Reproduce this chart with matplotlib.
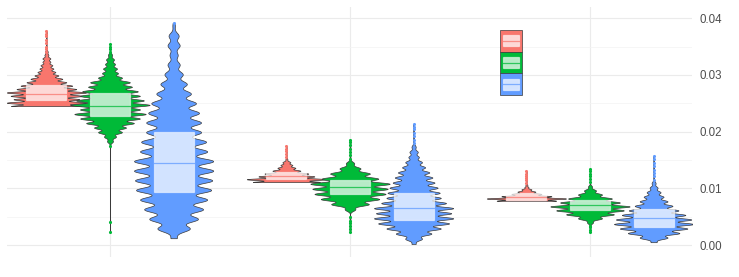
import numpy as np
import matplotlib
matplotlib.use("Agg")
import matplotlib.pyplot as plt
from matplotlib.patches import Rectangle
from matplotlib.lines import Line2D

# ---------------- data ----------------
categories = ["1", "2", "3"]                 # x groups (no labels shown)
series_colors = ["#F8766D", "#00BA38", "#619CFF"]

# value-level histograms per violin: start value, level spacing, counts (low -> high)
s1_lo = [0.0245, 0.0111, 0.0078]
s1_step = [0.0006, 0.0005, 0.0004]
s1_counts = [
    [36, 40, 33, 36, 40, 30, 26, 20, 16, 12, 9, 7, 6, 4, 4, 2, 1],
    [34, 40, 28, 22, 14, 9, 6, 4, 1],
    [30, 40, 25, 15, 9, 5, 2, 1],
]
s1_box = [[0.0256, 0.0267, 0.0283], [0.0116, 0.0121, 0.0128], [0.0079, 0.0085, 0.0092]]
s1_out = [
    [0.0340, 0.0345, 0.0350, 0.0356, 0.0362, 0.0368, 0.0373, 0.0378],
    [0.0155, 0.0160, 0.0165, 0.0170, 0.0175],
    [0.0110, 0.0114, 0.0118, 0.0122, 0.0126, 0.0130],
]

s2_lo = [0.0183, 0.0063, 0.0040]
s2_step = [0.0008, 0.0009, 0.0007]
s2_counts = [
    [3, 6, 12, 16, 24, 30, 36, 30, 40, 34, 30, 28, 22, 20, 12, 8, 7, 5, 4, 2],
    [5, 18, 28, 34, 36, 38, 27, 19, 10, 4],
    [3, 12, 24, 34, 40, 30, 22, 12, 6, 2],
]
s2_box = [[0.0227, 0.0245, 0.0268], [0.0090, 0.0102, 0.0115], [0.0062, 0.0071, 0.0079]]
s2_out = [
    [0.0023, 0.0041, 0.0174, 0.0340, 0.0345, 0.0350, 0.0355],
    [0.0023, 0.0028, 0.0033, 0.0038, 0.0043, 0.0049,
     0.0152, 0.0158, 0.0164, 0.0170, 0.0176, 0.0181, 0.0186],
    [0.0023, 0.0027, 0.0031, 0.0034, 0.0111, 0.0116, 0.0121, 0.0125, 0.0130, 0.0134],
]

s3_lo = [0.0012, 0.0002, 0.0005]
s3_step = [0.0017, 0.0009, 0.0008]
s3_counts = [
    [3, 16, 24, 29, 33, 37, 38, 39, 39, 33, 32, 27, 27, 25, 22, 17, 13, 9, 6, 4, 6, 5, 1],
    [2, 8, 17, 26, 34, 38, 36, 38, 31, 26, 25, 23, 20, 18, 15, 11, 8, 5, 4, 2],
    [3, 14, 26, 34, 40, 38, 32, 25, 19, 14, 10, 7, 4, 2],
]
s3_box = [[0.0093, 0.0144, 0.0200], [0.0044, 0.0065, 0.0092], [0.0031, 0.0047, 0.0063]]
s3_out = [
    [0.0392],
    [0.0180, 0.0186, 0.0192, 0.0198, 0.0204, 0.0209, 0.0213],
    [0.0115, 0.0121, 0.0127, 0.0133, 0.0139, 0.0145, 0.0151, 0.0157],
]

y_ticks = [0.00, 0.01, 0.02, 0.03, 0.04]
y_tick_labels = ["0.00", "0.01", "0.02", "0.03", "0.04"]

# ---------------- figure ----------------
W, H = 739, 277
fig = plt.figure(figsize=(W / 100, H / 100), dpi=100)
px_l, px_r, px_t, px_b = 7, 692, 6.7, 256.7
ax = fig.add_axes([px_l / W, 1 - px_b / H, (px_r - px_l) / W, (px_b - px_t) / H])

dodge = [-0.265, 0.0, 0.265]
half_w = 0.165
box_w = 0.167
edge = "#3a3a3a"

LO = [s1_lo, s2_lo, s3_lo]
STEP = [s1_step, s2_step, s3_step]
COUNTS = [s1_counts, s2_counts, s3_counts]
BOX = [s1_box, s2_box, s3_box]
OUT = [s1_out, s2_out, s3_out]

for g in range(len(categories)):
    for s in range(3):
        lo, step = LO[s][g], STEP[s][g]
        c = np.array(COUNTS[s][g], dtype=float)
        lv = lo + step * np.arange(len(c))
        out = np.array(OUT[s][g])
        vals = np.concatenate([lv, out])
        wts = np.concatenate([c, np.full(len(out), 0.35)])
        bw = 0.33 * step
        yy = np.linspace(vals.min(), vals.max(), 2500)
        d = (wts[None, :] * np.exp(-0.5 * ((yy[:, None] - vals[None, :]) / bw) ** 2)).sum(1)
        d = d / d.max() * half_w
        xc = g + 1 + dodge[s]
        ax.fill_betweenx(yy, xc - d, xc + d, facecolor=series_colors[s],
                         edgecolor=edge, linewidth=0.5, zorder=2)

for g in range(len(categories)):
    for s in range(3):
        q1, med, q3 = BOX[s][g]
        xc = g + 1 + dodge[s]
        ax.add_patch(Rectangle((xc - box_w / 2, q1), box_w, q3 - q1,
                               facecolor=(1, 1, 1, 0.72), edgecolor=(1, 1, 1, 0.55),
                               linewidth=0.9, zorder=3))
        ax.plot([xc - box_w / 2, xc + box_w / 2], [med, med], color=series_colors[s],
                alpha=0.75, lw=0.9, zorder=4)
        out = OUT[s][g]
        ax.scatter([xc] * len(out), out, s=5, color=series_colors[s], zorder=5, linewidths=0)

ax.set_xlim(0.5708, 3.425)
ax.set_ylim(-0.00206, 0.04203)
ax.set_xticks([1, 2, 3])
ax.set_xticklabels([])
ax.set_yticks(y_ticks)
ax.set_yticklabels(y_tick_labels)
ax.set_yticks([0.005, 0.015, 0.025, 0.035], minor=True)
ax.yaxis.tick_right()
ax.tick_params(axis="both", which="both", length=0)
ax.tick_params(axis="y", pad=5.5, labelsize=8.3, labelcolor="#4D4D4D")
for lab in ax.get_yticklabels():
    lab.set_fontfamily(["Liberation Sans", "DejaVu Sans"])
ax.grid(True, which="major", color="#EBEBEB", linewidth=0.8, zorder=0)
ax.grid(True, which="minor", axis="y", color="#F3F3F3", linewidth=0.5, zorder=0)
ax.set_axisbelow(True)
for sp in ax.spines.values():
    sp.set_visible(False)

# legend keys (no labels)
kx0, kx1 = 500, 521.7
ky = [30, 51.7, 73.3, 95]
for s in range(3):
    y0, y1 = ky[s], ky[s + 1]
    fig.add_artist(Rectangle((kx0 / W, 1 - y1 / H), (kx1 - kx0) / W, (y1 - y0) / H,
                             transform=fig.transFigure, facecolor=series_colors[s],
                             edgecolor=edge, linewidth=0.5))
    ym = (y0 + y1) / 2
    fig.add_artist(Rectangle((502.5 / W, 1 - (ym + 5.5) / H), 16.7 / W, 11 / H,
                             transform=fig.transFigure, facecolor=(1, 1, 1, 0.72),
                             edgecolor=(1, 1, 1, 0.55), linewidth=0.9))
    fig.add_artist(Line2D([502.5 / W, 519.2 / W], [1 - ym / H, 1 - ym / H],
                          transform=fig.transFigure, color=series_colors[s],
                          alpha=0.75, lw=0.9))

fig.savefig("out.png", dpi=100)
